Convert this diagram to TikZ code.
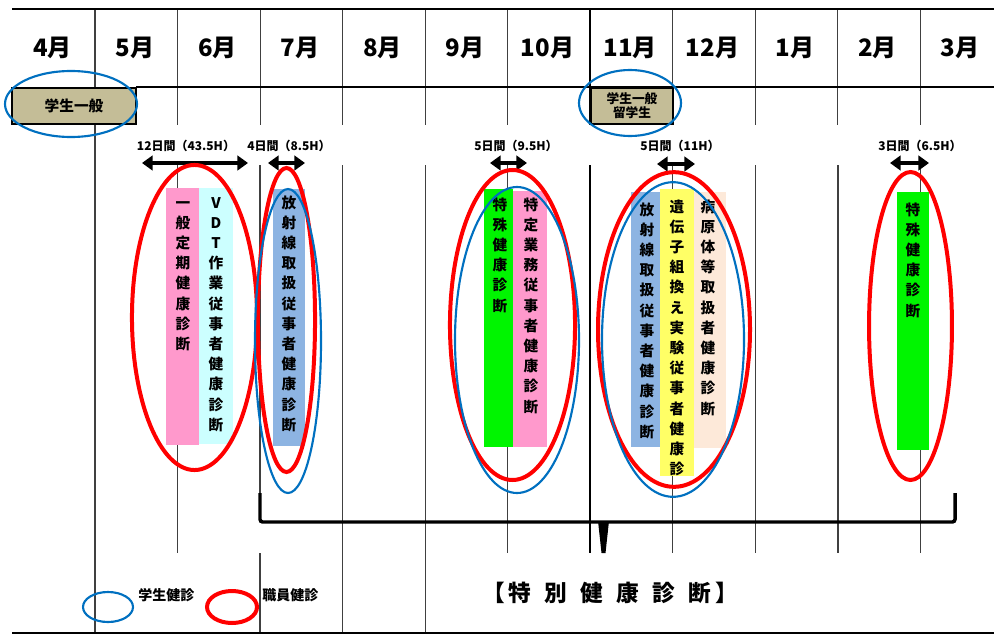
\documentclass[tikz,border=0pt]{standalone}
\usepackage{fontspec}
\setmainfont{Noto Sans CJK JP}
\usetikzlibrary{arrows.meta}
\definecolor{tanbox}{RGB}{196,189,151}
\definecolor{pinkbar}{RGB}{255,153,204}
\definecolor{cyanbar}{RGB}{204,255,255}
\definecolor{steelbar}{RGB}{141,180,226}
\definecolor{greenbar}{RGB}{0,245,0}
\definecolor{yellowbar}{RGB}{255,255,102}
\definecolor{peachbar}{RGB}{253,233,217}
\definecolor{stublue}{RGB}{0,112,192}
\definecolor{staffred}{RGB}{255,0,0}
\newcommand\vcol[4]{\foreach \vc [count=\vi from 0] in {#4} {\node[vch] (#1\vi) at (#2,{#3+\vi*20.2}) {\vc};}}
\tikzset{
  gridline/.style={line width=0.8pt, black!75},
  boldgrid/.style={line width=1.6pt, black},
  month/.style={font=\fontsize{18}{20}\selectfont\bfseries, inner sep=0},
  daylabel/.style={font=\fontsize{9}{10}\selectfont\bfseries, inner sep=0},
  vch/.style={font=\fontsize{11}{12}\selectfont\bfseries, inner sep=0, text height=0.88em, text depth=0.12em},
  span/.style={line width=2.8pt, {Triangle[length=8pt,width=11pt]}-{Triangle[length=8pt,width=11pt]}},
  redring/.style={staffred, line width=3pt},
  bluering/.style={stublue, line width=1.6pt},
  tanrect/.style={fill=tanbox, draw=black, line width=1.4pt},
}
\begin{document}
\begin{tikzpicture}[x=0.75pt,y=-0.75pt]
\useasboundingbox (0,0) rectangle (994,635);
% grid lines
\foreach \j in {1,...,10} {\draw[gridline] ({95+82.55*\j},9) -- ({95+82.55*\j},125);}
\draw[gridline] (95,9) -- (95,633);
\foreach \xx in {177.5,507.8,672.9,755.4,838,920.5} {\draw[gridline] (\xx,165) -- (\xx,553);}
\foreach \xx in {342.7,425.2} {\draw[gridline] (\xx,165) -- (\xx,633);}
\draw[gridline] (260,165) -- (260,493);
\draw[gridline] (260,553) -- (260,633);
\draw[boldgrid] (590.3,9) -- (590.3,125);
\draw[boldgrid] (590.3,165) -- (590.3,553);
\draw[line width=2.2pt] (12,9) -- (994,9);
\draw[line width=1.6pt] (136,87) -- (994,87);
\draw[line width=1.5pt] (12,633) -- (994,633);
% months
\foreach \m [count=\k from 0] in {4月,5月,6月,7月,8月,9月,10月,11月,12月,1月,2月,3月}
  {\node[month] (mon\k) at ({52.5+82.5*\k},48) {\m};}
% second row boxes
\node[tanrect, minimum width=93pt, minimum height=27pt, inner sep=0, font=\fontsize{11}{12}\selectfont\bfseries] (gen1) at (74,106) {学生一般};
\node[tanrect, minimum width=61.5pt, minimum height=27pt, inner sep=0, align=center, font=\fontsize{9.5}{10.5}\selectfont\bfseries] (gen2) at (632,106) {学生一般\\留学生};
\draw[bluering] (71,104) ellipse [x radius=49.5pt, y radius=24.75pt];
\draw[bluering] (630,103) ellipse [x radius=38.25pt, y radius=24.75pt];
% span labels and arrows
\node[daylabel] (l1) at (186,146) {12日間（43.5H）};
\node[daylabel] (l2) at (289,146) {4日間（8.5H）};
\node[daylabel] (l3) at (516,146) {5日間（9.5H）};
\node[daylabel] (l4) at (680,146) {5日間（11H）};
\node[daylabel] (l5) at (920,146) {3日間（6.5H）};
\coordinate (a1l) at (142,163); \coordinate (a1r) at (248,163);
\coordinate (a2l) at (268,163); \coordinate (a2r) at (305,163);
\coordinate (a3l) at (490,163); \coordinate (a3r) at (527,163);
\coordinate (a4l) at (657,164); \coordinate (a4r) at (695,164);
\coordinate (a5l) at (890,163); \coordinate (a5r) at (929,163);
\foreach \a in {1,...,5} {\draw[span] (a\a l) -- (a\a r);}
% bars
\fill[pinkbar] (166,188) rectangle (199,445);
\fill[cyanbar] (199,188) rectangle (233,444);
\fill[steelbar] (273,189) rectangle (305,446);
\fill[greenbar] (484,189) rectangle (513,447);
\fill[pinkbar] (513,191) rectangle (547,447);
\fill[steelbar] (631,192) rectangle (660,447);
\fill[yellowbar] (660,189) rectangle (694,476);
\fill[peachbar] (694,192) rectangle (726,448);
\fill[greenbar] (897,192) rectangle (929,450);
% vertical texts
\vcol{ta}{183}{203}{一,般,定,期,健,康,診,断}
\vcol{tb}{216}{203}{V,D,T,作,業,従,事,者,健,康,診,断}
\vcol{tc}{289}{203}{放,射,線,取,扱,従,事,者,健,康,診,断}
\vcol{td}{500}{205}{特,殊,健,康,診,断}
\vcol{te}{531}{205}{特,定,業,務,従,事,者,健,康,診,断}
\vcol{tf}{647}{210}{放,射,線,取,扱,従,事,者,健,康,診,断}
\vcol{tg}{677}{207}{遺,伝,子,組,換,え,実,験,従,事,者,健,康,診}
\vcol{th}{708}{207}{病,原,体,等,取,扱,者,健,康,診,断}
\vcol{ti}{913}{210}{特,殊,健,康,診,断}
% rings
\draw[redring] (194.5,317.5) ellipse [x radius=46.9pt, y radius=114.4pt];
\draw[redring] (286.5,320) ellipse [x radius=21.4pt, y radius=114pt];
\draw[bluering] (288,341) ellipse [x radius=24.75pt, y radius=114pt];
\draw[redring] (512.5,325) ellipse [x radius=46.9pt, y radius=116.25pt];
\draw[bluering] (517,340) ellipse [x radius=46.5pt, y radius=114.75pt];
\draw[redring] (674,329.5) ellipse [x radius=57pt, y radius=118pt];
\draw[bluering] (673,339.5) ellipse [x radius=53.25pt, y radius=118pt];
\draw[redring] (910.5,326) ellipse [x radius=31.1pt, y radius=115.5pt];
% bracket
\draw[line width=2.6pt, rounded corners=2pt] (260,493) -- (260,522) -- (955,522) -- (955,493);
\fill (598,521) -- (609,521) -- (605.5,553) -- (601.5,553) -- cycle;
% legend
\draw[bluering] (108,607) ellipse [x radius=18.75pt, y radius=11.25pt];
\node[anchor=west, inner sep=0, font=\fontsize{10.5}{11}\selectfont\bfseries] (leg1) at (138,595) {学生健診};
\draw[redring] (232,607) ellipse [x radius=18.75pt, y radius=12pt];
\node[anchor=west, inner sep=0, font=\fontsize{10.5}{11}\selectfont\bfseries] (leg2) at (262,595) {職員健診};
\node[inner sep=0, font=\fontsize{17}{18}\selectfont\bfseries] (title) at (610,593) {【\hspace{3pt}特\hspace{10pt}別\hspace{10pt}健\hspace{10pt}康\hspace{10pt}診\hspace{10pt}断\hspace{3pt}】};
\end{tikzpicture}
\end{document}
